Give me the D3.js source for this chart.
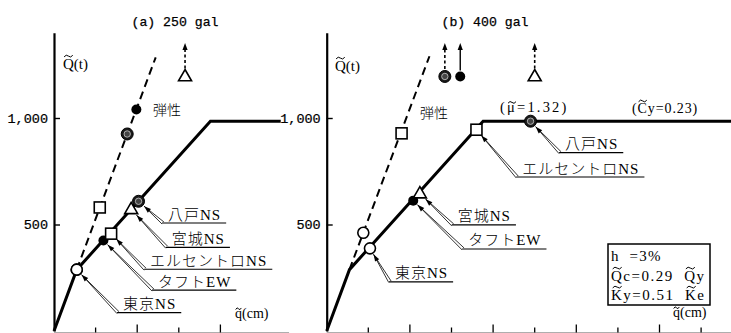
<!DOCTYPE html>
<html><head><meta charset="utf-8">
<script src="https://cdn.jsdelivr.net/npm/d3@7"></script>
<style>
html,body{margin:0;padding:0;background:#fff;}
svg{display:block;}
</style></head><body>
<svg id="chart" width="731" height="333"></svg>
<script>
// Shear force Q(t) vs. displacement q(cm): trilinear skeleton curve with peak responses

const records = ["東京NS", "タフトEW", "エルセントロNS", "宮城NS", "八戸NS"];
const recordSymbols = ["circle", "dot", "square", "triangle", "hatched"];

// Skeleton curve (same for both input levels)
const skeletonQ = [0, 288, 985, 985];
const skeletonA_q = [0, 0.547, 3.76, 5.45];
const skeletonB_q = [0, 0.547, 3.76, 9.9];

// Elastic stiffness line beyond the cracking point
const elasticLineA_q = [0.547, 2.445];
const elasticLineA_Q = [288, 1285];
const elasticLineB_q = [0.547, 2.47];
const elasticLineB_Q = [288, 1290];

// (a) 250 gal peak responses, order as in `records`
const inelasticA_q = [0.547, 1.188, 1.373, 1.855, 2.032];
const inelasticA_Q = [288, 425, 457, 571, 609];
const elasticA_q = [0.547, 1.98, 1.10, 3.15, 1.76];
const elasticA_Q = [288, 1040, 580, null, 925];     // null = beyond the scale

// (b) 400 gal peak responses
const inelasticB_q = [1.04, 2.08, 3.60, 2.24, 4.90];
const inelasticB_Q = [388, 612, 945, 645, 985];
const elasticB_q = [0.88, 3.21, 1.80, 5.00, 2.84];
const elasticB_Q = [461, null, 928, null, null];

const yTicks = [500, 1000];
const yTickLabels = ["500", "1,000"];
const xTicksA = [1, 2, 3, 4];
const xTicksB = [1, 2, 3, 4, 5, 6, 7, 8, 9];

// Leader-label anchors (start of the underline), in data units
const labelAnchorA = [[1.54, 86], [2.38, 192], [2.19, 290], [2.71, 393], [2.62, 507]];
const labelAnchorB = [[1.52, 231], [3.28, 385], [4.58, 723], [3.03, 498], [5.61, 837]];

const OFF_SCALE_Q = 1195, ARROW_TIP_Q = 1352;

const svg = d3.select("#chart");
const yScale = d3.scaleLinear().domain([0, 1400]).range([331, 32.8]);

const SERIF = "'Liberation Serif', 'Noto Sans CJK JP', serif";
const MONO = "'Liberation Mono', 'DejaVu Sans Mono', monospace";
const JP = "'Noto Sans CJK JP', sans-serif";

// text with a drawn tilde over chosen characters
function tildeText(g, x, y, str, idxs, font, size, extra) {
  const t = g.append("text").attr("x", x).attr("y", y)
    .attr("font-family", font).attr("font-size", size)
    .style("white-space", "pre").text(str);
  if (extra) extra(t);
  const node = t.node();
  idxs.forEach(i => {
    const e = node.getExtentOfChar(i);
    const ch = str[i];
    const upper = /[A-Z]/.test(ch);
    const cx = e.x + e.width / 2;
    const w = Math.max(5, Math.min(e.width * 0.8, size * 0.6));
    const ty = y - size * (upper ? 0.86 : 0.66);
    g.append("path")
      .attr("d", `M${cx - w / 2},${ty + 0.8} Q${cx - w / 4},${ty - 2.2} ${cx},${ty} T${cx + w / 2},${ty - 0.8}`)
      .attr("fill", "none").attr("stroke", "#000").attr("stroke-width", 1);
  });
  return t;
}

function drawMarker(g, type, cx, cy) {
  if (type === "circle") {
    g.append("circle").attr("cx", cx).attr("cy", cy).attr("r", 5.5)
      .attr("fill", "#fff").attr("stroke", "#000").attr("stroke-width", 1.6);
  } else if (type === "dot") {
    g.append("circle").attr("cx", cx).attr("cy", cy).attr("r", 5)
      .attr("fill", "#000");
  } else if (type === "square") {
    g.append("rect").attr("x", cx - 5.5).attr("y", cy - 5.5).attr("width", 11).attr("height", 11)
      .attr("fill", "#fff").attr("stroke", "#000").attr("stroke-width", 1.6);
  } else if (type === "triangle") {
    const s = 13, h = s * 0.866;
    g.append("path")
      .attr("d", `M${cx},${cy - h * 0.62} L${cx + s / 2},${cy + h * 0.38} L${cx - s / 2},${cy + h * 0.38} Z`)
      .attr("fill", "#fff").attr("stroke", "#000").attr("stroke-width", 1.6);
  } else if (type === "hatched") {
    g.append("circle").attr("cx", cx).attr("cy", cy).attr("r", 6)
      .attr("fill", "#1a1a1a").attr("stroke", "#000").attr("stroke-width", 1);
    g.append("circle").attr("cx", cx).attr("cy", cy).attr("r", 3.2)
      .attr("fill", "#444").attr("stroke", "#bbb").attr("stroke-width", 0.9);
  }
}

const markerRadius = { circle: 6, dot: 5, square: 6.5, triangle: 7, hatched: 6.5 };

const panels = [
  {
    title: "(a) 250 gal", titleX: 175,
    x: d3.scaleLinear().domain([0, 1]).range([54, 95.6]), xEnd: 5.65,
    xTicks: xTicksA, skel_q: skeletonA_q,
    elLine_q: elasticLineA_q, elLine_Q: elasticLineA_Q,
    in_q: inelasticA_q, in_Q: inelasticA_Q, el_q: elasticA_q, el_Q: elasticA_Q,
    anchors: labelAnchorA,
    qLabel: [63, 69], elasticText: [153, 115], xLabel: [235, 318]
  },
  {
    title: "(b) 400 gal", titleX: 485,
    x: d3.scaleLinear().domain([0, 1]).range([326.7, 368.3]), xEnd: 9.8,
    xTicks: xTicksB, skel_q: skeletonB_q,
    elLine_q: elasticLineB_q, elLine_Q: elasticLineB_Q,
    in_q: inelasticB_q, in_Q: inelasticB_Q, el_q: elasticB_q, el_Q: elasticB_Q,
    anchors: labelAnchorB,
    qLabel: [335, 71], elasticText: [420, 118], xLabel: [673, 317]
  }
];

panels.forEach((p, pi) => {
  const g = svg.append("g");
  const x = p.x;

  // title
  g.append("text").attr("x", p.titleX).attr("y", 26).attr("text-anchor", "middle")
    .attr("font-family", MONO).attr("font-size", 13.2).attr("fill", "#000")
    .attr("stroke", "#000").attr("stroke-width", 0.25).text(p.title);

  // x axis: faint baseline, alternating tick lengths
  const xBase = 332.5;
  const gx = g.append("g").attr("transform", `translate(0,${xBase})`);
  gx.append("line").attr("x1", x(0)).attr("x2", x(p.xEnd))
    .attr("stroke", "#999").attr("stroke-width", 0.8);
  gx.selectAll("line.tick").data(p.xTicks).join("line").attr("class", "tick")
    .attr("x1", d => x(d)).attr("x2", d => x(d))
    .attr("y1", 0).attr("y2", d => d % 2 === 0 ? -8 : -5)
    .attr("stroke", "#000").attr("stroke-width", 1.3);

  // y axis
  const yAxis = d3.axisLeft(yScale).tickValues(yTicks)
    .tickFormat((d, i) => yTickLabels[i]).tickSizeInner(-6).tickSizeOuter(0).tickPadding(6);
  const gy = g.append("g").attr("transform", `translate(${x(0)},0)`).call(yAxis);
  gy.select(".domain").attr("stroke-width", 2.2);
  gy.selectAll(".tick line").attr("stroke-width", 1.4);
  gy.selectAll(".tick text").attr("font-family", MONO).attr("font-size", 13.5).attr("fill", "#000")
    .attr("stroke", "#000").attr("stroke-width", 0.2);

  // axis names
  tildeText(g, p.qLabel[0], p.qLabel[1], "Q(t)", [0], SERIF, 15);
  tildeText(g, p.xLabel[0], p.xLabel[1], "q(cm)", [0], SERIF, 14);

  // elastic stiffness line (dashed)
  g.append("path")
    .attr("d", d3.line().x(d => x(d[0])).y(d => yScale(d[1]))(p.elLine_q.map((q, i) => [q, p.elLine_Q[i]])))
    .attr("fill", "none").attr("stroke", "#000").attr("stroke-width", 2).attr("stroke-dasharray", "8,5");

  // skeleton curve
  g.append("path")
    .attr("d", d3.line().x(d => x(d[0])).y(d => yScale(d[1]))(p.skel_q.map((q, i) => [q, skeletonQ[i]])))
    .attr("fill", "none").attr("stroke", "#000").attr("stroke-width", 3).attr("stroke-linejoin", "miter");

  // "弾性" label
  g.append("text").attr("x", p.elasticText[0]).attr("y", p.elasticText[1])
    .attr("font-family", JP).attr("font-weight", 300).attr("font-size", 14).text("弾性");

  // elastic responses: on-scale markers, or marker with upward arrow when beyond the scale
  records.forEach((name, i) => {
    const sym = recordSymbols[i];
    const cx = x(p.el_q[i]);
    if (p.el_Q[i] !== null) {
      drawMarker(g, sym, cx, yScale(p.el_Q[i]));
    } else {
      const cy = yScale(OFF_SCALE_Q);
      const tip = yScale(ARROW_TIP_Q);
      const solid = sym === "dot";
      g.append("line").attr("x1", cx).attr("x2", cx)
        .attr("y1", cy - markerRadius[sym] - 1).attr("y2", tip + 5)
        .attr("stroke", "#000").attr("stroke-width", solid ? 1.4 : 1.6)
        .attr("stroke-dasharray", solid ? null : "3,2.5");
      g.append("path").attr("d", `M${cx},${tip} L${cx + 2.6},${tip + 7} L${cx - 2.6},${tip + 7} Z`)
        .attr("fill", "#000");
      drawMarker(g, sym, cx, cy);
    }
  });

  // inelastic responses with leader labels
  records.forEach((name, i) => {
    const sym = recordSymbols[i];
    const px = x(p.in_q[i]), py = yScale(p.in_Q[i]);
    const ax = x(p.anchors[i][0]), ay = yScale(p.anchors[i][1]);
    const dx = ax - px, dy = ay - py, len = Math.hypot(dx, dy);
    const ux = dx / len, uy = dy / len;
    const tx = px + ux * (markerRadius[sym] + 1), ty = py + uy * (markerRadius[sym] + 1);
    const nx = -uy, ny = ux;
    // slender double-line arrow
    [1, -1].forEach(s => {
      g.append("line").attr("x1", tx).attr("y1", ty)
        .attr("x2", ax + nx * 1.4 * s).attr("y2", ay + ny * 1.4 * s)
        .attr("stroke", "#000").attr("stroke-width", 0.8);
    });
    g.append("path")
      .attr("d", `M${tx},${ty} L${tx + ux * 7 + nx * 2.4},${ty + uy * 7 + ny * 2.4} L${tx + ux * 7 - nx * 2.4},${ty + uy * 7 - ny * 2.4} Z`)
      .attr("fill", "#000");

    const t = g.append("text").attr("x", ax + 5).attr("y", ay - 3.5)
      .attr("font-family", SERIF).attr("font-weight", 300).attr("font-size", 15).attr("letter-spacing", 1)
      .text(name);
    const w = t.node().getComputedTextLength();
    g.append("line").attr("x1", ax - 1).attr("x2", ax + w + 10)
      .attr("y1", ay).attr("y2", ay).attr("stroke", "#000").attr("stroke-width", 1.2);
  });

  // markers drawn on top of the curve
  records.forEach((name, i) => drawMarker(g, recordSymbols[i], x(p.in_q[i]), yScale(p.in_Q[i])));
});

// annotations of the 400 gal panel
const gb = svg.append("g");
const mu = tildeText(gb, 500, 112, "(μ=1.32)", [1], SERIF, 14.5, t => t.attr("letter-spacing", 2.2));
tildeText(gb, 632, 113, "(Cy=0.23)", [1], SERIF, 14, t => t.attr("letter-spacing", 0.9));

// parameter box
gb.append("rect").attr("x", 608).attr("y", 244).attr("width", 102).attr("height", 61)
  .attr("fill", "#fff").attr("stroke", "#000").attr("stroke-width", 1.5);
tildeText(gb, 611, 261, "h  =3%", [], SERIF, 15, t => t.attr("letter-spacing", 1.2));
tildeText(gb, 611, 281, "Qc=0.29  Qy", [0, 9], SERIF, 15, t => t.attr("letter-spacing", 1.5));
tildeText(gb, 611, 300, "Ky=0.51  Ke", [0, 9], SERIF, 15, t => t.attr("letter-spacing", 1.5));
</script>
</body></html>
